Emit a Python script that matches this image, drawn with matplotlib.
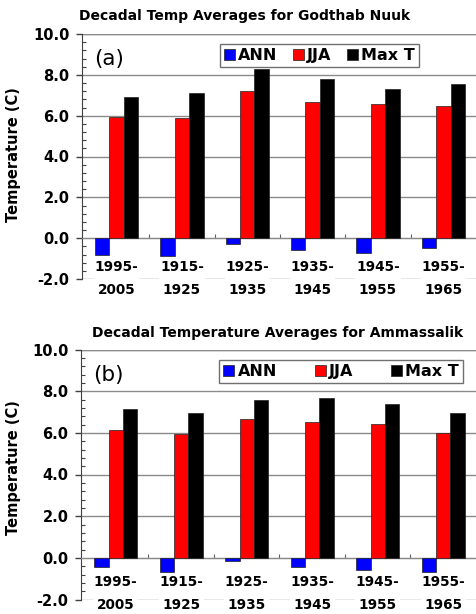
import matplotlib.pyplot as plt
import numpy as np
from matplotlib.ticker import MultipleLocator, AutoMinorLocator, FixedLocator, NullFormatter

# decade labels (first one really is 1995-2005 in the source)
decades = ['1995-\n2005', '1915-\n1925', '1925-\n1935', '1935-\n1945', '1945-\n1955', '1955-\n1965']

# Godthab Nuuk
nuuk_ann = [-0.83, -0.85, -0.30, -0.60, -0.75, -0.47]
nuuk_jja = [5.93, 5.88, 7.22, 6.65, 6.58, 6.45]
nuuk_max = [6.89, 7.10, 8.28, 7.79, 7.33, 7.56]

# Ammassalik
amm_ann = [-0.43, -0.67, -0.13, -0.43, -0.56, -0.67]
amm_jja = [6.14, 5.93, 6.66, 6.50, 6.43, 6.01]
amm_max = [7.14, 6.97, 7.57, 7.65, 7.37, 6.94]

series_names = ["ANN", "JJA", "Max T"]
series_colors = ["#0000FF", "#FF0000", "#000000"]

W, H = 476, 614
fig = plt.figure(figsize=(W / 100, H / 100), dpi=100)


def panel(rect, ann, jja, mx, tag, colspace, lab_y):
    ax = fig.add_axes(rect)
    x = np.arange(len(decades))
    w = 0.22
    for off, vals, name, col in zip([-w, 0, w], [ann, jja, mx], series_names, series_colors):
        ax.bar(x + off, vals, w, color=col, edgecolor="#202020", linewidth=0.5,
               label=name, zorder=3)

    ax.set_ylim(-2, 10)
    ax.set_xlim(-0.53, 5.5)
    ax.yaxis.set_major_locator(MultipleLocator(2))
    ax.yaxis.set_minor_locator(AutoMinorLocator(5))
    ax.set_yticklabels([f"{v:.1f}" for v in ax.get_yticks()])
    ax.tick_params(axis="y", which="major", direction="out", length=4, width=1,
                   pad=5, labelsize=10.5, color="#404040")
    for t in ax.get_yticklabels():
        t.set_fontweight("bold")
    ax.tick_params(axis="y", which="minor", direction="in", length=3, width=0.8,
                   color="#404040")
    ax.grid(axis="y", color="#8a8a8a", linewidth=1, zorder=0)
    ax.axhline(10, color="#8a8a8a", linewidth=1, zorder=0)

    # category axis sits at zero, ticks between groups
    ax.spines["bottom"].set_position(("data", 0))
    ax.spines["bottom"].set_color("#8a8a8a")
    ax.spines["top"].set_visible(False)
    ax.spines["right"].set_visible(False)
    ax.spines["left"].set_color("#404040")
    ax.xaxis.set_major_locator(FixedLocator(x[:-1] + 0.5))
    ax.xaxis.set_major_formatter(NullFormatter())
    ax.tick_params(axis="x", direction="in", length=3, color="#606060")

    for xi, lab in zip(x, decades):
        ax.text(xi, lab_y, lab, ha="center", va="center", fontsize=9.8,
                fontweight="bold", linespacing=1.8, zorder=4,
                bbox=dict(facecolor="white", edgecolor="none", pad=0.5))

    ax.text(0.03, 0.898, tag, transform=ax.transAxes, fontsize=15.5,
            ha="left", va="center")

    leg = ax.legend(loc="upper left", bbox_to_anchor=(0.35, 0.958), ncol=3,
                    fancybox=False, edgecolor="#707070", framealpha=1,
                    handlelength=0.7, handleheight=0.7, handletextpad=0.2,
                    columnspacing=colspace, borderpad=0.25, borderaxespad=0,
                    prop={"weight": "bold", "size": 11.5})
    leg.get_frame().set_linewidth(1)
    return ax


panel([82 / W, 1 - 279 / H, 1 - 82 / W, 245 / H], nuuk_ann, nuuk_jja, nuuk_max, "(a)", 0.95, -1.96)
panel([81 / W, 1 - 599.5 / H, 1 - 81 / W, 250 / H], amm_ann, amm_jja, amm_max, "(b)", 2.35, -1.7)

fig.text(245 / W, 1 - 16 / H, "Decadal Temp Averages for Godthab Nuuk",
         ha="center", va="center", fontsize=10, fontweight="bold")
fig.text(278 / W, 1 - 333 / H, "Decadal Temperature Averages for Ammassalik",
         ha="center", va="center", fontsize=10, fontweight="bold")
fig.text(14 / W, 1 - 155 / H, "Temperature (C)", rotation=90,
         ha="center", va="center", fontsize=10.5, fontweight="bold")
fig.text(14 / W, 1 - 468 / H, "Temperature (C)", rotation=90,
         ha="center", va="center", fontsize=10.5, fontweight="bold")

fig.savefig("out.png", dpi=100)
